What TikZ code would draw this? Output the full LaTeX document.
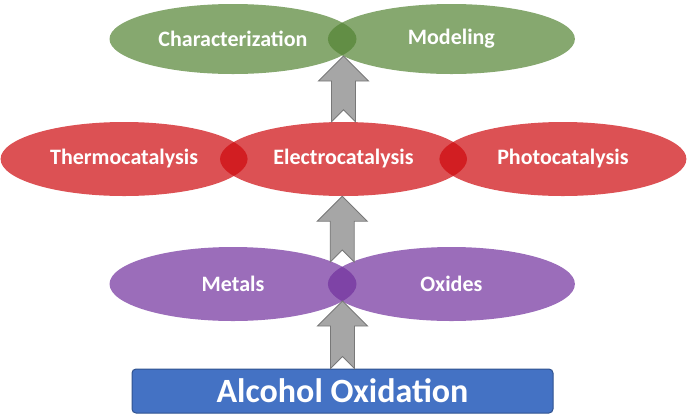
\documentclass[tikz,border=0pt]{standalone}
\usepackage{fontspec}
\setmainfont{Carlito}
\usetikzlibrary{positioning,shapes.geometric,calc}
\definecolor{blobgreen}{RGB}{84,132,52}
\definecolor{blobred}{RGB}{206,10,14}
\definecolor{blobpurple}{RGB}{114,50,158}
\definecolor{basefill}{RGB}{68,114,196}
\definecolor{basedraw}{RGB}{47,82,143}
\definecolor{arrfill}{RGB}{166,166,166}
\definecolor{arrdraw}{RGB}{120,120,120}
\tikzset{
  blob/.style={ellipse,minimum width=247pt,minimum height=70pt,inner sep=0pt,
            fill opacity=0.71,text opacity=1,text=white,
            font=\fontsize{22}{24}\selectfont\bfseries},
  greenblob/.style={blob,fill=blobgreen},
  redblob/.style={blob,fill=blobred,minimum height=74pt},
  purpleblob/.style={blob,fill=blobpurple,minimum height=74pt},
  basebox/.style={draw=basedraw,line width=1pt,fill=basefill,rounded corners=4pt,
            minimum width=421pt,minimum height=44pt,text=white,
            font=\fontsize{34}{36}\selectfont\bfseries},
  blockarr/.style={draw=arrdraw,line width=0.9pt,fill=arrfill,line join=miter},
}
% up arrow with notched tail, from #1 (tail) to #2 (tip)
\newcommand{\blockarrow}[2]{%
  \draw[blockarr] let \p1=(#1), \p2=(#2) in
    (\x1-12pt,\y1) -- (\x1-12pt,\y2-25pt) -- (\x1-25pt,\y2-25pt) -- (\x1,\y2)
    -- (\x1+25pt,\y2-25pt) -- (\x1+12pt,\y2-25pt) -- (\x1+12pt,\y1)
    -- (\x1,\y1+12pt) -- cycle;}

\begin{document}
\begin{tikzpicture}[x=1pt,y=-1pt]
  \useasboundingbox (0,0) rectangle (688,416);
  % top row
  \node[greenblob] (charac) at (233,39) {Characterization};
  \node[greenblob,right=-29pt of charac] (model) {Modeling};
  % middle row
  \node[redblob] (electro) at (343.5,159) {Electrocatalysis};
  \node[redblob,left=-28pt of electro] (thermo) {Thermocatalysis};
  \node[redblob,right=-28pt of electro] (photo) {Photocatalysis};
  % bottom row
  \node[purpleblob] (metals) at (233,284) {Metals};
  \node[purpleblob,right=-29pt of metals] (oxides) {Oxides};
  % base
  \node[basebox] (alcohol) at (342.5,391) {Alcohol Oxidation};
  % arrow ends
  \coordinate (toplens) at ($(charac.center)!0.5!(model.center)+(0,17)$);
  \coordinate (botlens) at ($(metals.center)!0.5!(oxides.center)+(0,17)$);
  \coordinate (midtail) at ($(metals.center)!0.5!(oxides.center)+(0,-22)$);
  \blockarrow{alcohol.north}{botlens}
  \blockarrow{midtail}{electro.south}
  \blockarrow{electro.north}{toplens}
\end{tikzpicture}
\end{document}
